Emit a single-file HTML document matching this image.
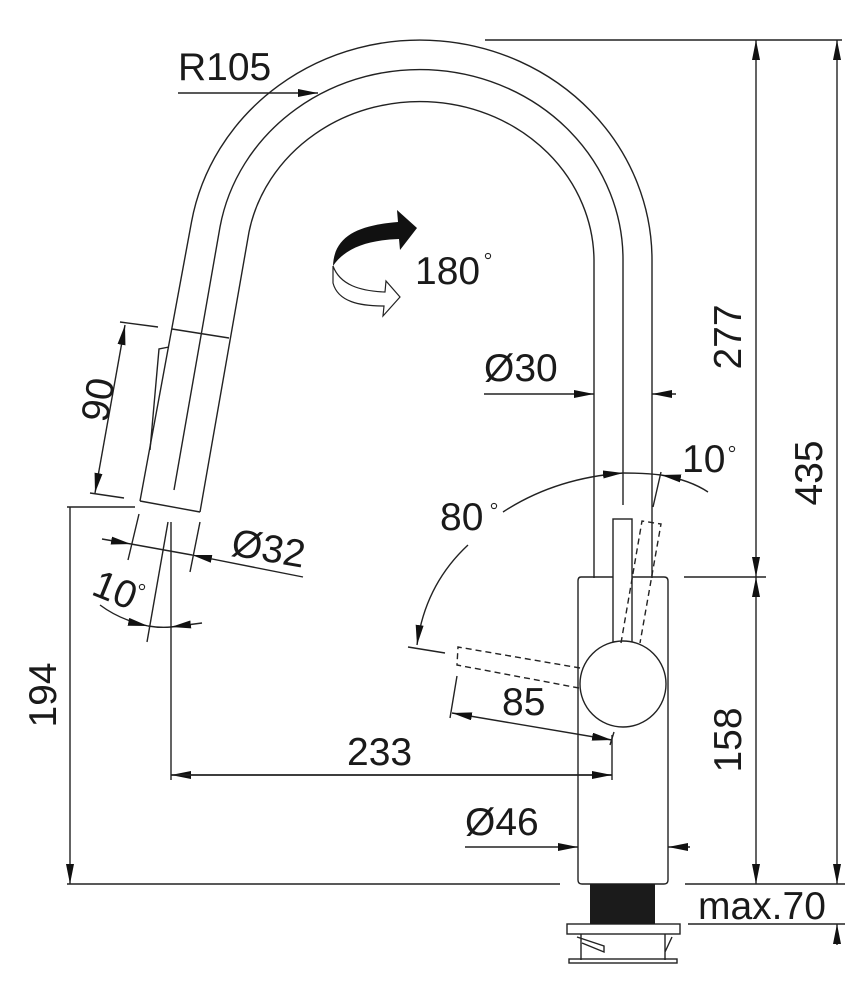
<!DOCTYPE html>
<html><head><meta charset="utf-8"><style>
html,body{margin:0;padding:0;background:#fff;}
svg{display:block;}
text{font-family:"Liberation Sans",sans-serif;font-size:39px;fill:#1a1a1a;}
</style></head><body>
<svg width="865" height="992" viewBox="0 0 865 992" xmlns="http://www.w3.org/2000/svg">
<defs>
<marker id="a" viewBox="0 0 20 8" refX="20" refY="4" markerWidth="20" markerHeight="8" markerUnits="userSpaceOnUse" orient="auto-start-reverse"><path d="M0,0 L20,4 L0,8 Z" fill="#111"/></marker>
</defs>
<g fill="none" stroke="#222" stroke-width="1.4">
<path d="M652,578 L652,260 A232,220 0 0 0 191.5,222 L140,501"/>
<path d="M623,505 L623,260 A203,190 0 0 0 220,227 L174,490"/>
<path d="M594,578 L594,260 A174,160 0 0 0 249,232 L200,512"/>
<path d="M140,501 L200,512"/>
<path d="M172,329 L229,338"/>
<path d="M169,347 L159,349 L150,450"/>
<path d="M485,40 H842"/>
<path d="M178,93 H318" marker-end="url(#a)"/>
<path d="M125,325 L95,493" marker-start="url(#a)" marker-end="url(#a)"/>
<path d="M120,322 L158,327 M90,493 L124,498"/>
<path d="M67,507 H135"/>
<path d="M70,507 V884" marker-end="url(#a)"/>
<path d="M67,884 H560"/>
<path d="M102,539 L131,544" marker-end="url(#a)"/>
<path d="M131,544 L192,555"/>
<path d="M303,577 L192,555" marker-end="url(#a)"/>
<path d="M139,514 L128,560 M200,522 L190,572"/>
<path d="M171,522 V780"/>
<path d="M168,522 L147,642"/>
<path d="M100,605 Q120,620 148,626" marker-end="url(#a)"/>
<path d="M148,626 Q160,628 171,627"/>
<path d="M202,623 L171,627" marker-end="url(#a)"/>
<path d="M612,775 H171" marker-end="url(#a)"/>
<path d="M171,775 H612" marker-end="url(#a)"/>
<path d="M612,735 V780"/>
<path d="M484,394 H594" marker-end="url(#a)"/>
<path d="M676,394 H652" marker-end="url(#a)"/>
<path d="M708,492 Q690,480 661,475" marker-end="url(#a)"/>
<path d="M661,475 Q645,473 623,473"/>
<path d="M503,512 Q555,478 623,473" marker-end="url(#a)"/>
<path d="M468,545 Q425,585 417,645" marker-end="url(#a)"/>
<path d="M661,472 L653,507"/>
<path d="M408,647 L445,653"/>
<path d="M581,577 H664 Q668,577 668,581 V880 Q668,884 664,884 H582 Q578,884 578,880 V581 Q578,577 581,577 Z"/>
<rect x="613" y="519" width="19" height="123" fill="#fff"/>
<circle cx="623" cy="684" r="43" fill="#fff"/>
<g stroke-dasharray="6,4">
<path d="M621,643 L642,521 L661,524 L640,643"/>
<path d="M580,668 L458,647 L457,665 L579,688"/>
</g>
<path d="M452,713 L612,740" marker-start="url(#a)" marker-end="url(#a)"/>
<path d="M457,676 L450,718 M614,732 L610,745"/>
<path d="M465,847 H578" marker-end="url(#a)"/>
<path d="M690,847 H668" marker-end="url(#a)"/>
<path d="M684,577 H766"/>
<path d="M756,40 V577" marker-start="url(#a)" marker-end="url(#a)"/>
<path d="M756,577 V884" marker-start="url(#a)" marker-end="url(#a)"/>
<path d="M837,40 V884" marker-start="url(#a)" marker-end="url(#a)"/>
<path d="M837,945 V924" marker-end="url(#a)"/>
<path d="M685,884 H845"/>
<path d="M688,924 H845"/>
<rect x="567" y="924" width="113" height="10" fill="#fff"/>
<path d="M581,934 V960 M665,934 V960 M577,937 L604,946 L604,952 L582,943 M672,937 L665,952"/>
<rect x="569" y="959" width="108" height="4"/>
</g>
<g fill="none" stroke="#222" stroke-width="1.1">
<circle cx="488" cy="256" r="2.6"/>
<circle cx="494" cy="506" r="2.6"/>
<circle cx="732" cy="449" r="2.6"/>
<circle cx="142" cy="587" r="2.6"/>
</g>
<rect x="590" y="884" width="65" height="40" fill="#1b1b1b"/>
<path d="M333,266 C334,235 360,225 398,222 L397,210 L417,228 L400,250 L399,239 C368,240 345,248 333,266 Z" fill="#111"/>
<path d="M333,266 L333,283 C338,302 360,306 384,306 L383,316 L400,297 L386,281 L385,292 C360,291 340,285 333,266 Z" fill="#fff" stroke="#222" stroke-width="1.2"/>
<text x="178" y="80">R105</text>
<text x="415" y="284" font-size="38">180</text>
<text x="484" y="381">Ø30</text>
<text x="682" y="472">10</text>
<text x="440" y="530">80</text>
<text x="230" y="555" transform="rotate(10 230 555)">Ø32</text>
<text x="90" y="594" transform="rotate(22 90 594)">10</text>
<text x="502" y="715">85</text>
<text x="347" y="765">233</text>
<text x="465" y="835">Ø46</text>
<text x="698" y="919" font-size="37">max.70</text>
<text transform="translate(111,402) rotate(-80)" text-anchor="middle">90</text>
<text transform="translate(56,695) rotate(-90)" text-anchor="middle">194</text>
<text transform="translate(741,337) rotate(-90)" text-anchor="middle">277</text>
<text transform="translate(822,473) rotate(-90)" text-anchor="middle">435</text>
<text transform="translate(741,740) rotate(-90)" text-anchor="middle">158</text>
</svg>
</body></html>
